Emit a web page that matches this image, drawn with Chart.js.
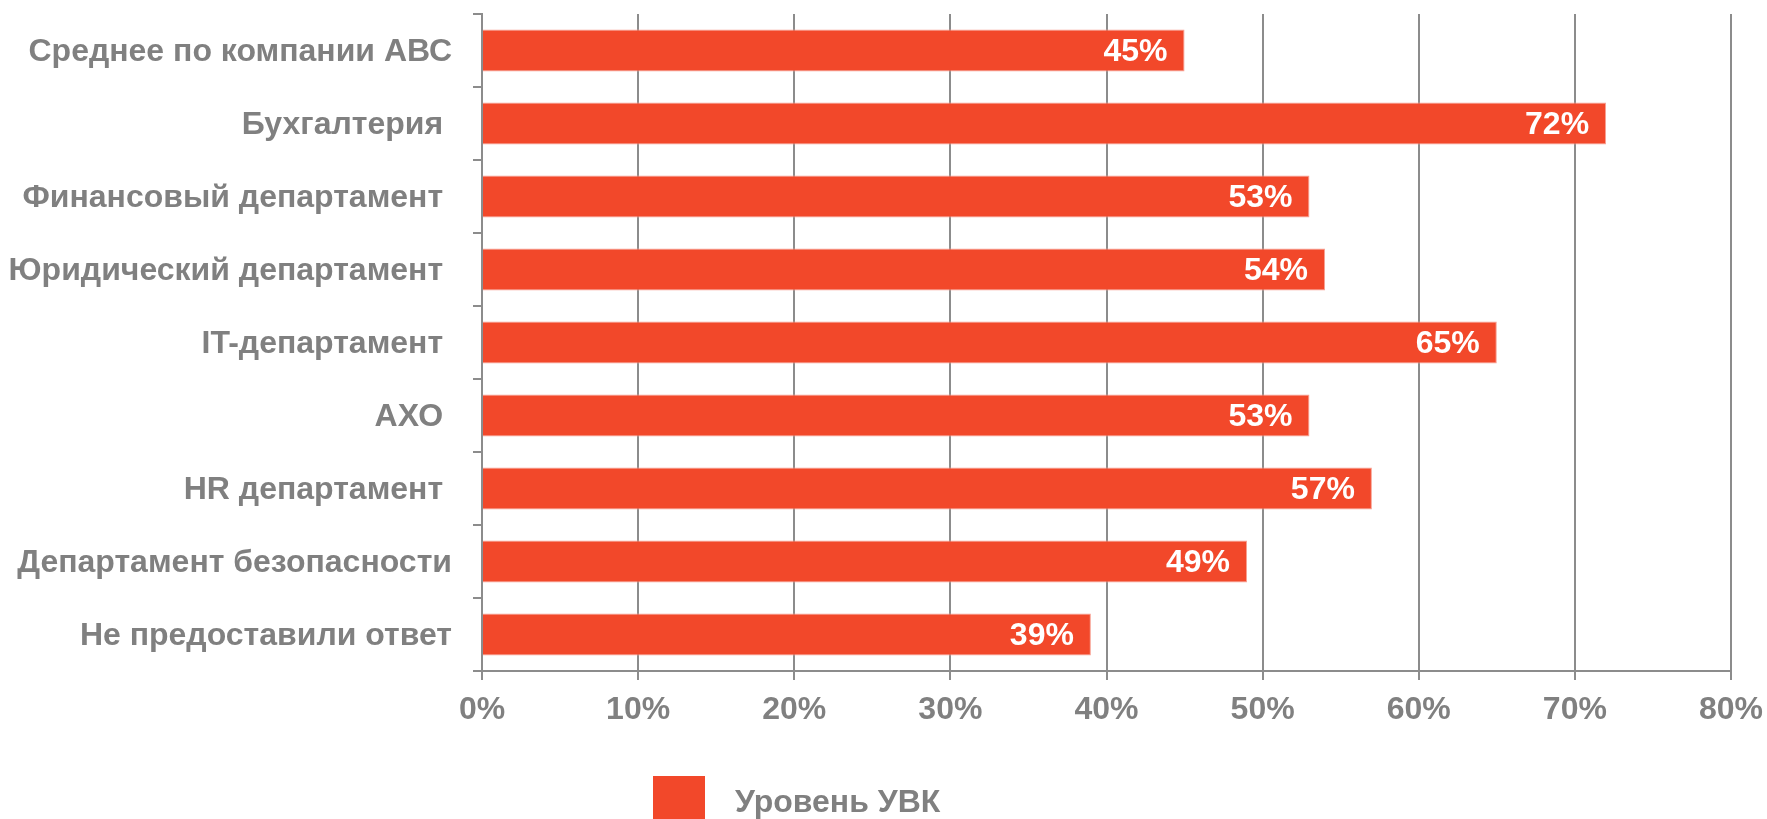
<!DOCTYPE html>
<html lang="ru">
<head>
<meta charset="utf-8">
<title>Уровень УВК</title>
<script src="https://cdn.jsdelivr.net/npm/chart.js@4.4.1/dist/chart.umd.min.js"></script>
<style>
  html, body { margin: 0; padding: 0; background: #fff; }
</style>
</head>
<body>
<canvas id="chartUvk" width="1767" height="819"></canvas>
<script>
// ==================== DATA ====================
// trailing spaces kept as in the source labels
const departments = [
  "Среднее по компании АВС",
  "Бухгалтерия ",
  "Финансовый департамент ",
  "Юридический департамент ",
  "IT-департамент ",
  "АХО ",
  "HR департамент ",
  "Департамент безопасности",
  "Не предоставили ответ"
];
const uvkLevel = [45, 72, 53, 54, 65, 53, 57, 49, 39];
const percentTicks = [0, 10, 20, 30, 40, 50, 60, 70, 80];
const seriesName = "Уровень УВК";

// ==================== STYLE ====================
const BAR_COLOR = "#F2482A";
const BAR_EDGE = "#F8A193";
const GRID_COLOR = "#8C8C8C";
const TEXT_COLOR = "#808080";
const FONT = '"Liberation Sans", Arial, sans-serif';
const FONT_SIZE = 32;

Chart.defaults.font.family = FONT;
Chart.defaults.font.weight = "bold";
Chart.defaults.font.size = FONT_SIZE;
Chart.defaults.color = TEXT_COLOR;

// white "NN%" at the inner end of each bar
const valueLabels = {
  id: "valueLabels",
  afterDatasetsDraw(chart) {
    const ctx = chart.ctx;
    ctx.save();
    ctx.font = `bold ${FONT_SIZE}px ${FONT}`;
    ctx.fillStyle = "#fff";
    ctx.textAlign = "right";
    ctx.textBaseline = "middle";
    chart.data.datasets.forEach((ds, i) => {
      chart.getDatasetMeta(i).data.forEach((bar, j) => {
        ctx.fillText(ds.data[j] + "%", bar.x - 17, bar.y + 2);
      });
    });
    ctx.restore();
  }
};

// legend swatch + label under the axis
const legendBox = {
  id: "legendBox",
  afterDraw(chart) {
    const ctx = chart.ctx;
    const ds = chart.data.datasets[0];
    ctx.save();
    ctx.fillStyle = ds.backgroundColor;
    ctx.fillRect(653, 776, 52, 46);
    ctx.font = `bold ${FONT_SIZE}px ${FONT}`;
    ctx.fillStyle = TEXT_COLOR;
    ctx.textAlign = "left";
    ctx.textBaseline = "alphabetic";
    ctx.fillText(ds.label, 735, 812);
    ctx.restore();
  }
};

new Chart(document.getElementById("chartUvk").getContext("2d"), {
  type: "bar",
  data: {
    labels: departments,
    datasets: [{
      label: seriesName,
      data: uvkLevel,
      backgroundColor: BAR_COLOR,
      borderColor: BAR_EDGE,
      borderWidth: 1,
      borderSkipped: "start",
      barPercentage: 0.575,
      categoryPercentage: 1
    }]
  },
  options: {
    indexAxis: "y",
    responsive: false,
    animation: false,
    layout: { padding: { top: 14, right: 36, bottom: 68, left: 0 } },
    plugins: {
      legend: { display: false },
      tooltip: { enabled: false }
    },
    scales: {
      x: {
        min: 0,
        max: 80,
        afterBuildTicks: scale => { scale.ticks = percentTicks.map(v => ({ value: v })); },
        afterFit: scale => {
          scale.height = 80;
          scale.paddingLeft = 0;
          scale.paddingRight = 0;
        },
        grid: { color: GRID_COLOR, lineWidth: 2, tickLength: 9 },
        border: { color: GRID_COLOR, width: 2 },
        ticks: { padding: 11, callback: v => v + "%", maxRotation: 0 }
      },
      y: {
        afterFit: scale => {
          scale.width = 482;
          scale.paddingTop = 0;
          scale.paddingBottom = 0;
        },
        grid: { drawOnChartArea: false, color: GRID_COLOR, lineWidth: 2, tickLength: 9 },
        border: { color: GRID_COLOR, width: 2 },
        ticks: { padding: 21, autoSkip: false, labelOffset: 2 }
      }
    }
  },
  plugins: [valueLabels, legendBox]
});
</script>
</body>
</html>
